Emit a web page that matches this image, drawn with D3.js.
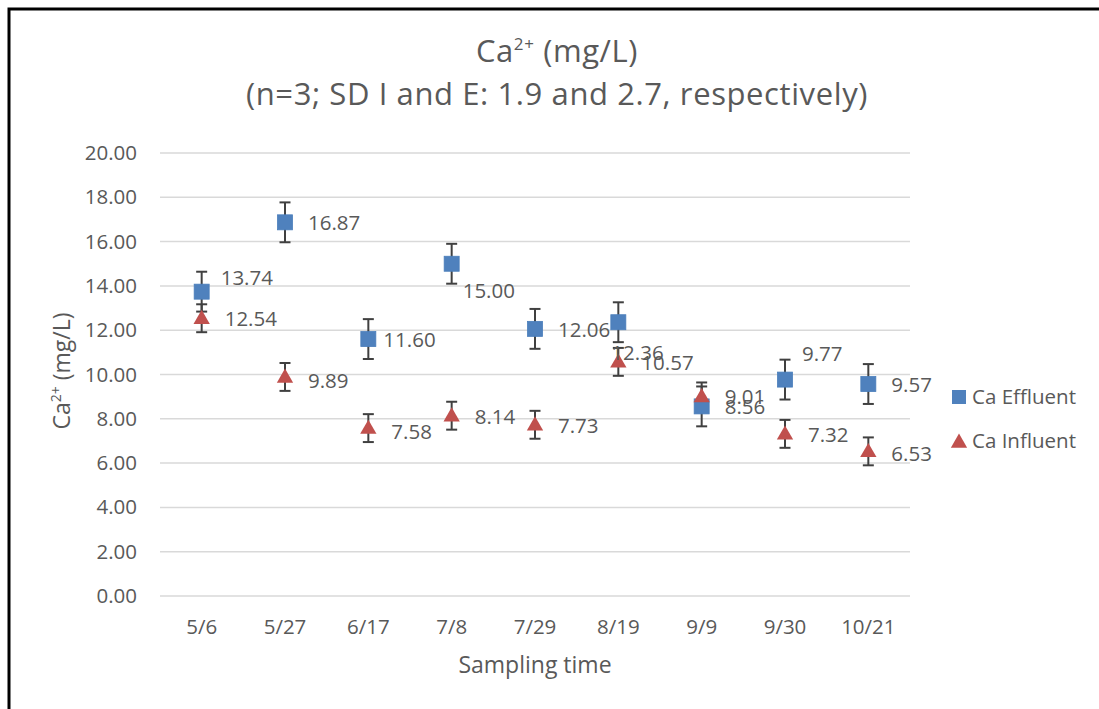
<!DOCTYPE html>
<html>
<head>
<meta charset="utf-8">
<script src="https://cdn.jsdelivr.net/npm/d3@7"></script>
<style>
  body { margin: 0; background: #fff; }
  svg { display: block; font-family: "Open Sans", Lato, sans-serif; }
  .grid line { stroke: #d9d9d9; stroke-width: 1.5; }
  .txt { fill: #595959; }
</style>
</head>
<body>
<svg id="chart" width="1099" height="709"></svg>
<script>
// sampling dates and measured means
const dates = ['5/6', '5/27', '6/17', '7/8', '7/29', '8/19', '9/9', '9/30', '10/21'];
const effluent = [13.74, 16.87, 11.60, 15.00, 12.06, 12.36, 8.56, 9.77, 9.57];
const influent = [12.54, 9.89, 7.58, 8.14, 7.73, 10.57, 9.01, 7.32, 6.53];
const effluentErr = 0.9;   // error bar half-length
const influentErr = 0.63;
const yTicks = [0, 2, 4, 6, 8, 10, 12, 14, 16, 18, 20];

// label nudges (px) where Excel labels were moved off the default right position
const effLabelDy = [-15, 0, 0, 26, 0, 30, 0, -27, 0];
const effLabelDx = [-4, 0, -8, -12, 0, -30, 0, -6, 0];
const infLabelDy = [0, 3, 3, 0, 0, 0, 0, 0, 2];

const width = 1099, height = 709;
const svg = d3.select('#chart');
const FONT = '"Open Sans", Lato, sans-serif';

// outer frame (runs off the right and bottom of the picture)
svg.append('rect')
  .attr('x', 9).attr('y', 9)
  .attr('width', 1200).attr('height', 800)
  .attr('fill', 'none').attr('stroke', '#000').attr('stroke-width', 3);

const x = d3.scaleBand().domain(dates).range([160, 910]).padding(0);
const cx = d => x(d) + x.bandwidth() / 2;
const y = d3.scaleLinear().domain([0, 20]).range([596, 153]);

// gridlines
svg.append('g').attr('class', 'grid')
  .selectAll('line').data(yTicks).enter().append('line')
  .attr('x1', 160).attr('x2', 910)
  .attr('y1', d => y(d)).attr('y2', d => y(d));

// y tick labels
const yAxis = d3.axisLeft(y).tickValues(yTicks).tickFormat(d3.format('.2f')).tickSize(0).tickPadding(0);
const gy = svg.append('g').attr('transform', 'translate(137,0)').call(yAxis);
gy.select('.domain').remove();
gy.selectAll('text').attr('class', 'txt').style('font-size', '20.5px').style('font-family', FONT);

// x tick labels
const xAxis = d3.axisBottom(x).tickSize(0).tickPadding(0);
const gx = svg.append('g').attr('transform', 'translate(0,619)').call(xAxis);
gx.select('.domain').remove();
gx.selectAll('text').attr('class', 'txt').style('font-size', '20.5px').style('font-family', FONT);

// axis titles
svg.append('text').attr('class', 'txt')
  .attr('x', 535).attr('y', 673).attr('text-anchor', 'middle')
  .style('font-size', '23px').text('Sampling time');

const yt = svg.append('text').attr('class', 'txt')
  .attr('transform', 'translate(70,371) rotate(-90)')
  .attr('text-anchor', 'middle').style('font-size', '23px');
yt.append('tspan').text('Ca');
yt.append('tspan').attr('dy', -9).style('font-size', '14px').text('2+');
yt.append('tspan').attr('dy', 9).text(' (mg/L)');

// chart title
const t1 = svg.append('text').attr('class', 'txt')
  .attr('x', 557).attr('y', 62).attr('text-anchor', 'middle')
  .style('font-size', '31px').style('letter-spacing', '0.6px');
t1.append('tspan').text('Ca');
t1.append('tspan').attr('dy', -12).style('font-size', '17px').text('2+');
t1.append('tspan').attr('dy', 12).text(' (mg/L)');
svg.append('text').attr('class', 'txt')
  .attr('x', 557).attr('y', 105).attr('text-anchor', 'middle')
  .style('font-size', '31px').style('letter-spacing', '0.6px')
  .text('(n=3; SD I and E: 1.9 and 2.7, respectively)');

// error bars
function errorBars(values, err, cls) {
  const g = svg.append('g').attr('class', cls)
    .attr('stroke', '#404040').attr('stroke-width', 2);
  values.forEach((v, i) => {
    const px = cx(dates[i]);
    g.append('line').attr('x1', px).attr('x2', px).attr('y1', y(v - err)).attr('y2', y(v + err));
    g.append('line').attr('x1', px - 5.5).attr('x2', px + 5.5).attr('y1', y(v - err)).attr('y2', y(v - err));
    g.append('line').attr('x1', px - 5.5).attr('x2', px + 5.5).attr('y1', y(v + err)).attr('y2', y(v + err));
  });
}
errorBars(effluent, effluentErr, 'err-eff');
errorBars(influent, influentErr, 'err-inf');

const triangle = d3.symbol().type(d3.symbolTriangle).size(115);

// markers
svg.append('g').selectAll('rect').data(effluent).enter().append('rect')
  .attr('x', (d, i) => cx(dates[i]) - 7.5)
  .attr('y', d => y(d) - 7.5)
  .attr('width', 15).attr('height', 15)
  .attr('fill', '#4f81bd').attr('stroke', '#4a7ebb').attr('stroke-width', 0.8);

svg.append('g').selectAll('path').data(influent).enter().append('path')
  .attr('d', triangle)
  .attr('transform', (d, i) => `translate(${cx(dates[i])},${y(d) + 1})`)
  .attr('fill', '#c0504d');

// data labels
svg.append('g').selectAll('text').data(effluent).enter().append('text')
  .attr('class', 'txt').style('font-size', '20.5px')
  .attr('x', (d, i) => cx(dates[i]) + 23 + effLabelDx[i])
  .attr('y', (d, i) => y(d) + 8 + effLabelDy[i])
  .text(d => d.toFixed(2));

svg.append('g').selectAll('text').data(influent).enter().append('text')
  .attr('class', 'txt').style('font-size', '20.5px')
  .attr('x', (d, i) => cx(dates[i]) + 23)
  .attr('y', (d, i) => y(d) + 8 + infLabelDy[i])
  .text(d => d.toFixed(2));

// legend
const lg = svg.append('g').attr('transform', 'translate(952,0)');
lg.append('rect').attr('x', 0).attr('y', 390).attr('width', 14).attr('height', 14).attr('fill', '#4f81bd');
lg.append('text').attr('class', 'txt').attr('x', 20).attr('y', 404).style('font-size', '20.5px').text('Ca Effluent');
lg.append('path').attr('d', triangle).attr('transform', 'translate(7,443)').attr('fill', '#c0504d');
lg.append('text').attr('class', 'txt').attr('x', 20).attr('y', 448).style('font-size', '20.5px').text('Ca Influent');
</script>
</body>
</html>
